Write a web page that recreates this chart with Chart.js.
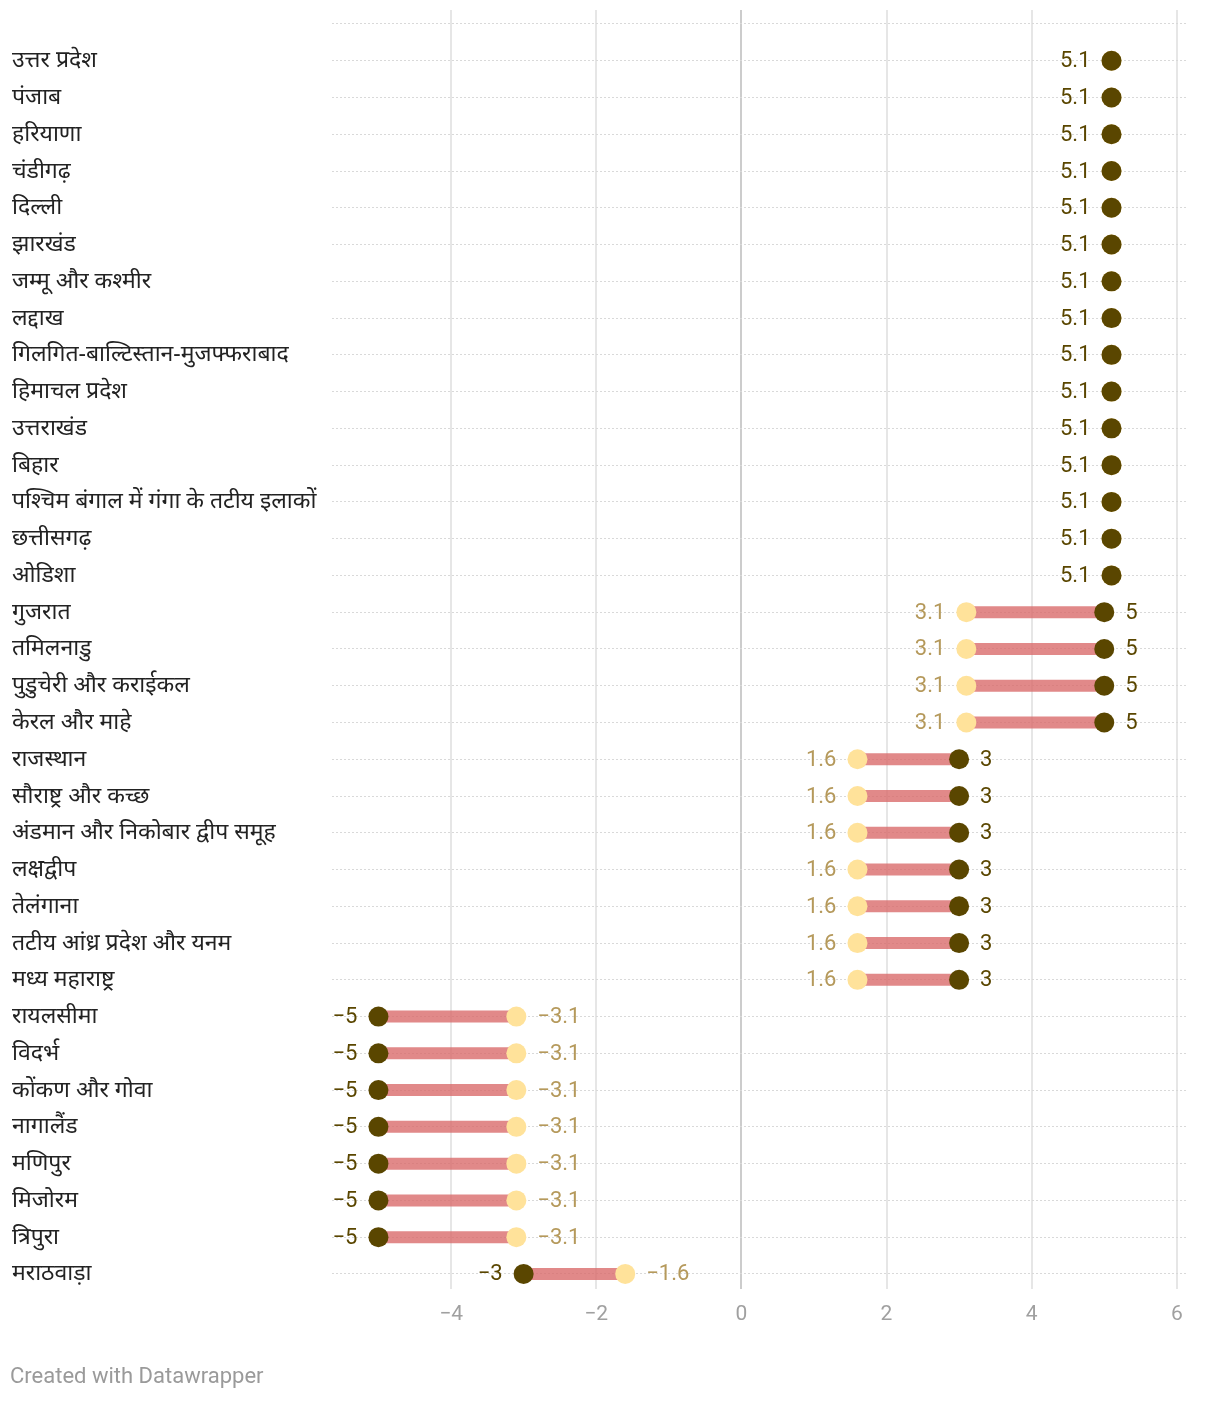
<!DOCTYPE html>
<html>
<head>
<meta charset="utf-8">
<script src="https://cdn.jsdelivr.net/npm/chart.js@4"></script>
<style>
  body { margin: 0; background: #fff; }
  #wrap { position: relative; width: 1220px; height: 1402px; }
  #credit {
    position: absolute; left: 10px; top: 1363px;
    font: 22px Roboto, sans-serif; color: #9a9a9a;
  }
</style>
</head>
<body>
<div id="wrap">
  <canvas id="chart"></canvas>
  <div id="credit">Created with Datawrapper</div>
</div>
<script>
// --- Datos ---
const categories = [
  'उत्तर प्रदेश', 'पंजाब', 'हरियाणा', 'चंडीगढ़', 'दिल्ली', 'झारखंड',
  'जम्मू और कश्मीर', 'लद्दाख', 'गिलगित-बाल्टिस्तान-मुजफ्फराबाद', 'हिमाचल प्रदेश',
  'उत्तराखंड', 'बिहार', 'पश्चिम बंगाल में गंगा के तटीय इलाकों', 'छत्तीसगढ़', 'ओडिशा',
  'गुजरात', 'तमिलनाडु', 'पुडुचेरी और कराईकल', 'केरल और माहे',
  'राजस्थान', 'सौराष्ट्र और कच्छ', 'अंडमान और निकोबार द्वीप समूह', 'लक्षद्वीप',
  'तेलंगाना', 'तटीय आंध्र प्रदेश और यनम', 'मध्य महाराष्ट्र',
  'रायलसीमा', 'विदर्भ', 'कोंकण और गोवा', 'नागालैंड', 'मणिपुर', 'मिजोरम', 'त्रिपुरा',
  'मराठवाड़ा'
];
const lightValues = [
  5.1, 5.1, 5.1, 5.1, 5.1, 5.1, 5.1, 5.1, 5.1, 5.1, 5.1, 5.1, 5.1, 5.1, 5.1,
  3.1, 3.1, 3.1, 3.1,
  1.6, 1.6, 1.6, 1.6, 1.6, 1.6, 1.6,
  -3.1, -3.1, -3.1, -3.1, -3.1, -3.1, -3.1,
  -1.6
];
const darkValues = [
  5.1, 5.1, 5.1, 5.1, 5.1, 5.1, 5.1, 5.1, 5.1, 5.1, 5.1, 5.1, 5.1, 5.1, 5.1,
  5, 5, 5, 5,
  3, 3, 3, 3, 3, 3, 3,
  -5, -5, -5, -5, -5, -5, -5,
  -3
];
const xTicks = [-4, -2, 0, 2, 4, 6];

const DARK = '#5a4600';
const LIGHT = '#ffe29a';
const DARK_TEXT = '#5a4600';
const LIGHT_TEXT = '#b5995b';

const fmt = v => (v < 0 ? '\u2212' : '') + Math.abs(v);

// Filas: la fila 0 queda vacía (línea de arriba)
const lightPoints = lightValues.map((v, i) => ({ x: v, y: i + 1 }));
const darkPoints = darkValues.map((v, i) => ({ x: v, y: i + 1 }));
const connectorPoints = [];
lightValues.forEach((v, i) => {
  connectorPoints.push({ x: v, y: i + 1 }, { x: darkValues[i], y: i + 1 }, { x: null, y: null });
});

// --- Etiquetas de valores ---
const valueLabels = {
  id: 'valueLabels',
  afterDatasetsDraw(chart) {
    const { ctx, scales: { x, y } } = chart;
    ctx.save();
    ctx.font = '22px Roboto, sans-serif';
    ctx.textBaseline = 'middle';
    lightValues.forEach((lv, i) => {
      const dv = darkValues[i];
      const py = y.getPixelForValue(i + 1) + 1;
      if (lv === dv) {
        ctx.fillStyle = DARK_TEXT;
        ctx.textAlign = 'right';
        ctx.fillText(fmt(dv), x.getPixelForValue(dv) - 21, py);
        return;
      }
      const lo = Math.min(lv, dv), hi = Math.max(lv, dv);
      ctx.fillStyle = lo === lv ? LIGHT_TEXT : DARK_TEXT;
      ctx.textAlign = 'right';
      ctx.fillText(fmt(lo), x.getPixelForValue(lo) - 21, py);
      ctx.fillStyle = hi === lv ? LIGHT_TEXT : DARK_TEXT;
      ctx.textAlign = 'left';
      ctx.fillText(fmt(hi), x.getPixelForValue(hi) + 21, py);
    });
    ctx.restore();
  }
};

new Chart(document.getElementById('chart'), {
  type: 'scatter',
  data: {
    datasets: [
      {
        data: darkPoints,
        backgroundColor: DARK,
        borderWidth: 0,
        pointRadius: 10,
        order: 1
      },
      {
        data: lightPoints,
        backgroundColor: LIGHT,
        borderWidth: 0,
        pointRadius: 10,
        order: 2
      },
      {
        data: connectorPoints,
        showLine: true,
        spanGaps: false,
        borderColor: 'rgba(216, 104, 104, 0.78)',
        borderWidth: 12,
        borderCapStyle: 'butt',
        pointRadius: 0,
        order: 3
      }
    ]
  },
  options: {
    responsive: true,
    maintainAspectRatio: false,
    animation: false,
    layout: { padding: { left: 12, right: 33, top: 10, bottom: 63 } },
    plugins: {
      legend: { display: false },
      tooltip: { enabled: false }
    },
    scales: {
      x: {
        type: 'linear',
        min: -5.64,
        max: 6.14,
        afterBuildTicks: scale => { scale.ticks = xTicks.map(v => ({ value: v })); },
        afterFit: scale => {
          scale.height = 50;
          scale.paddingLeft = 0;
          scale.paddingRight = 0;
        },
        grid: {
          color: ctx => ctx.tick && ctx.tick.value === 0 ? '#cccccc' : '#e6e6e6',
          lineWidth: 2,
          drawTicks: false
        },
        border: { display: false },
        ticks: {
          color: '#a0a0a0',
          padding: 13,
          font: { size: 21, family: 'Roboto, sans-serif' },
          callback: v => fmt(v)
        }
      },
      y: {
        type: 'linear',
        reverse: true,
        min: -0.38,
        max: 34.41,
        afterBuildTicks: scale => {
          scale.ticks = [0].concat(categories.map((c, i) => i + 1)).map(v => ({ value: v }));
        },
        afterFit: scale => {
          scale.width = 320;
          scale.paddingTop = 0;
          scale.paddingBottom = 0;
        },
        grid: {
          color: '#d9d9d9',
          lineWidth: 1,
          drawTicks: false
        },
        border: { display: false, dash: [2, 2] },
        ticks: {
          crossAlign: 'far',
          color: '#222222',
          font: { size: 23, family: "'Noto Sans', sans-serif" },
          callback: v => (v >= 1 ? categories[v - 1] : '')
        }
      }
    }
  },
  plugins: [valueLabels]
});
</script>
</body>
</html>
